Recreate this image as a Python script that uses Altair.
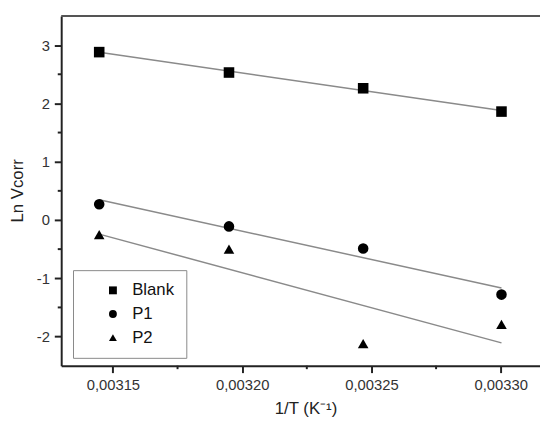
import altair as alt
import pandas as pd

# ---- data ----
inv_T = [0.0031447, 0.0031949, 0.0032468, 0.0033003]
blank = [2.88, 2.53, 2.26, 1.86]
p1 = [0.27, -0.11, -0.49, -1.28]
p2 = [-0.25, -0.50, -2.12, -1.79]
series_names = ["Blank", "P1", "P2"]
series_shapes = ["square", "circle", "triangle-up"]

x_major = [0.00315, 0.00320, 0.00325, 0.00330]
x_minor = [0.003175, 0.003225, 0.003275]
y_major = [-2, -1, 0, 1, 2, 3]
y_minor = [-1.5, -0.5, 0.5, 1.5, 2.5]

rows = []
for name, vals in zip(series_names, [blank, p1, p2]):
    for xv, yv in zip(inv_T, vals):
        rows.append({"x": xv, "y": yv, "series": name})
df = pd.DataFrame(rows)
df_xminor = pd.DataFrame({"x": x_minor})
df_yminor = pd.DataFrame({"y": y_minor})
df_one = pd.DataFrame({"k": [0]})

W, H = 486, 355
FONT = "Liberation Sans"

x_scale = alt.Scale(domain=[0.00313, 0.0033152], nice=False, zero=False)
y_scale = alt.Scale(domain=[-2.5, 3.5], nice=False, zero=False)

x_axis = alt.Axis(
    title="1/T (K⁻¹)", values=x_major, grid=False,
    labelExpr="replace(format(datum.value, '.5f'), '.', ',')",
    tickSize=7, tickWidth=2, tickColor="#222", domainColor="#222", domainWidth=2,
    labelFontSize=15, labelColor="#333", labelPadding=5, labelFont=FONT,
    titleFontSize=17, titleColor="#222", titleFont=FONT, titleFontWeight="normal",
    titleX=248, titleY=52, titleBaseline="bottom", titleAnchor="start", titleAlign="center",
)
y_axis = alt.Axis(
    title="Ln Vcorr", values=y_major, grid=False,
    labelExpr="toString(datum.value)",
    tickSize=7, tickWidth=2, tickColor="#222", domainColor="#222", domainWidth=2,
    labelFontSize=15, labelColor="#333", labelPadding=5, labelFont=FONT,
    titleFontSize=17, titleColor="#222", titleFont=FONT, titleFontWeight="normal",
    titleX=-44, titleY=177, titleBaseline="middle", titleAlign="center", titleAngle=270,
)

X = alt.X("x:Q", scale=x_scale, axis=x_axis)
Y = alt.Y("y:Q", scale=y_scale, axis=y_axis)

points = alt.Chart(df).mark_point(filled=True, opacity=1, color="black", size=115).encode(
    x=X, y=Y,
    shape=alt.Shape(
        "series:N",
        scale=alt.Scale(domain=series_names, range=series_shapes),
        legend=alt.Legend(
            title=None, orient="none", legendX=12, legendY=258,
            strokeColor="#888", fillColor="white", padding=12,
            labelFontSize=17, labelFont=FONT, labelColor="#111",
            symbolSize=64, symbolFillColor="black", symbolStrokeColor="black",
            symbolOffset=20, labelOffset=11, rowPadding=6,
        ),
    ),
)

fits = alt.Chart(df).transform_regression(
    "x", "y", groupby=["series"]
).mark_line(color="#8a8a8a", strokeWidth=1.5).encode(
    x=X, y=Y, detail="series:N"
)

minor_x = alt.Chart(df_xminor).mark_rule(color="#222", strokeWidth=2).encode(
    x=X, y=alt.value(H), y2=alt.value(H + 3.5)
)
minor_y = alt.Chart(df_yminor).mark_rule(color="#222", strokeWidth=2).encode(
    y=Y, x=alt.value(-3.5), x2=alt.value(0)
)
top_border = alt.Chart(df_one).mark_rule(color="#555", strokeWidth=2).encode(
    x=alt.value(0), x2=alt.value(W), y=alt.value(0)
)

chart = alt.layer(fits, points, minor_x, minor_y, top_border).properties(
    width=W, height=H,
    autosize=alt.AutoSizeParams(type="none"),
    padding={"left": 54, "top": 5, "right": 0, "bottom": 52},
    background="white",
).configure_view(stroke=None)

chart.save("out.html", embed_options={"renderer": "svg", "actions": False})
